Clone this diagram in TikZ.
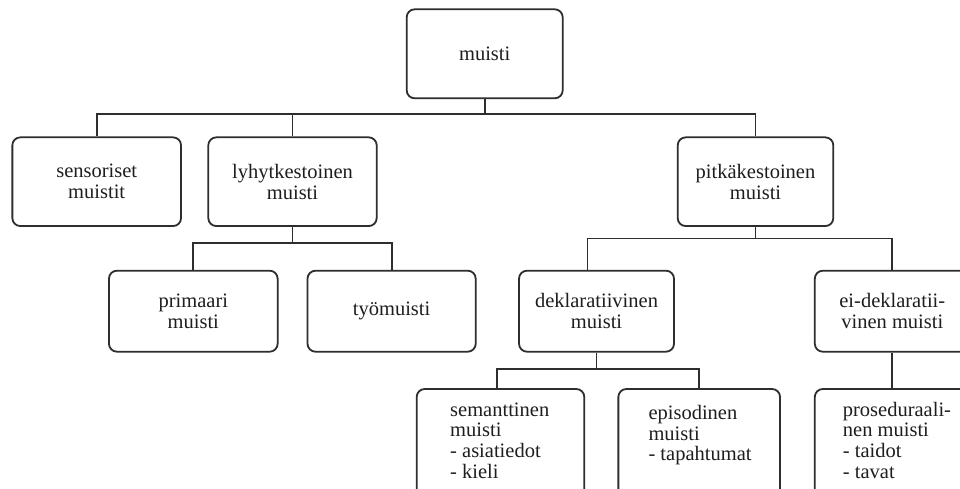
\documentclass[tikz,border=0pt]{standalone}
\usepackage{fontspec}
\setmainfont{Liberation Serif}
\definecolor{linec}{HTML}{2E2E2E}
\definecolor{textc}{HTML}{1E1E1E}
\newcommand\fsz{\fontsize{20.5}{20.8}\selectfont}
\begin{document}
\begin{tikzpicture}[x=1pt,y=-1pt,
  box/.style={draw=linec, line width=1.8pt, rounded corners=8pt, align=center,
    inner sep=0pt, font=\fsz, text=textc},
  conn/.style={draw=linec, line width=1.8pt},
  txt/.style={anchor=base west, inner sep=0pt, font=\fsz, text=textc}]
\useasboundingbox (0,0) rectangle (960,489);
\fill[white] (0,0) rectangle (960,489);
\clip (0,0) rectangle (960,489);
% level 0
\node[box, minimum width=156, minimum height=89] (muisti) at (484.7,53.8) {muisti};
% level 1
\node[box, minimum width=168.7, minimum height=88.7] (sens) at (96.7,181.7) {sensoriset\\muistit};
\node[box, minimum width=168.4, minimum height=88.7] (lyhyt) at (292.5,181.7) {lyhytkestoinen\\muisti};
\node[box, minimum width=155.6, minimum height=88.7] (pitka) at (755.5,181.7) {pitkäkestoinen\\muisti};
% level 2
\node[box, minimum width=168.7, minimum height=81] (prim) at (193.3,311.2) {primaari\\muisti};
\node[box, minimum width=168.2, minimum height=81] (tyo) at (391.6,311.2) {työmuisti};
\node[box, minimum width=155, minimum height=81] (dekl) at (596.5,311.2) {deklaratiivinen\\muisti};
\node[box, minimum width=155, minimum height=81] (eidekl) at (892.3,311.2) {ei-deklaratii-\\vinen muisti};
% level 3
\node[box, minimum width=167.6, minimum height=111] (sem) at (500.5,444.5) {};
\node[box, minimum width=161.7, minimum height=111] (epi) at (699.2,444.5) {};
\node[box, minimum width=155, minimum height=111] (pros) at (892.3,444.5) {};
\node[txt] (semT) at (450,416) {\begin{tabular}[t]{@{}l@{}}semanttinen\\muisti\\- asiatiedot\\- kieli\end{tabular}};
\node[txt] (epiT) at (648.3,419.3) {\begin{tabular}[t]{@{}l@{}}episodinen\\muisti\\- tapahtumat\end{tabular}};
\node[txt] (prosT) at (842.7,416) {\begin{tabular}[t]{@{}l@{}}proseduraali-\\nen muisti\\- taidot\\- tavat\end{tabular}};
% connectors
\draw[conn] (muisti.south) -- (muisti.south |- 0,114);
\draw[conn] (sens.north) |- (pitka.north |- 0,114) -- (pitka.north);
\draw[conn] (lyhyt.north) -- (lyhyt.north |- 0,114);
\draw[conn] (lyhyt.south) -- (lyhyt.south |- 0,242.7);
\draw[conn] (prim.north) |- (tyo.north |- 0,242.7) -- (tyo.north);
\draw[conn] (pitka.south) -- (pitka.south |- 0,238.5);
\draw[conn] ([xshift=-9pt]dekl.north) |- (eidekl.north |- 0,238.5) -- (eidekl.north);
\draw[conn] (dekl.south) -- (dekl.south |- 0,369);
\draw[conn] ([xshift=-3.8pt]sem.north) |- (epi.north |- 0,369) -- (epi.north);
\draw[conn] (eidekl.south) -- (pros.north);
\end{tikzpicture}
\end{document}
